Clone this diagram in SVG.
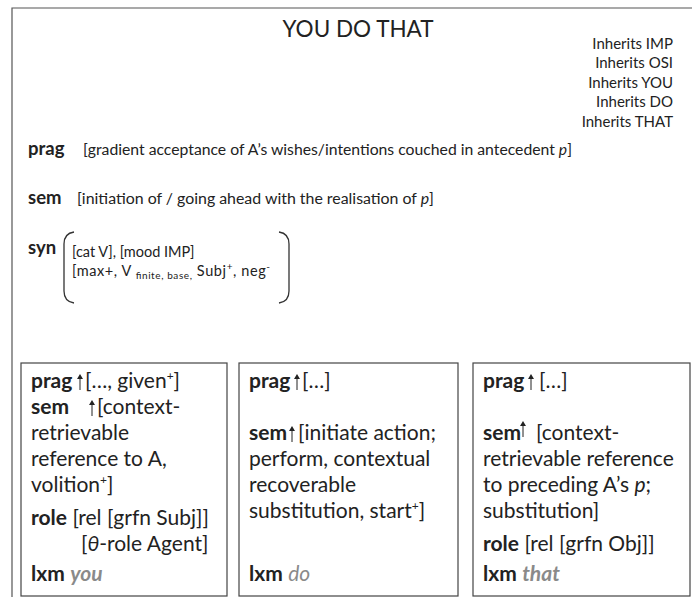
<svg xmlns="http://www.w3.org/2000/svg" width="692" height="601" viewBox="0 0 692 601">
<style>
text{font-family:Lato,"Open Sans","Liberation Sans",sans-serif;fill:#222}
.t{font-size:22.5px}
.inh{font-size:15px;text-anchor:end}
.m{font-size:15.5px}
.s{font-size:14.5px}
.lb{font-size:18.5px;font-weight:bold}
.b{font-weight:bold}
.bx{font-size:21px}
.g{fill:#8a8a8a;font-style:italic}
.frame{fill:none;stroke:#555;stroke-width:1.2}
.box{fill:#fff;stroke:#444;stroke-width:1.2}
.arr{stroke:#222;stroke-width:1;fill:none}
.ah{fill:#222}
.par{fill:none;stroke:#333;stroke-width:1.3}
</style>
<defs>
<g id="up"><line class="arr" x1="0" y1="16" x2="0" y2="3"/><polygon class="ah" points="-3,5 0,0 3,5"/></g>
</defs>
<rect width="692" height="601" fill="#fff"/>
<g id="frame"><path class="frame" d="M692,8 H12 V597"/></g>
<g id="header">
<text class="t" x="358" y="37" text-anchor="middle">YOU DO THAT</text>
<text class="inh" x="673" y="49">Inherits IMP</text>
<text class="inh" x="673" y="68">Inherits OSI</text>
<text class="inh" x="673" y="88">Inherits YOU</text>
<text class="inh" x="673" y="107">Inherits DO</text>
<text class="inh" x="673" y="127">Inherits THAT</text>
</g>
<g id="prag">
<text class="lb" x="28" y="155">prag</text>
<text class="m" x="83" y="155" textLength="489" lengthAdjust="spacingAndGlyphs">[gradient acceptance of A’s wishes/intentions couched in antecedent <tspan font-style="italic">p</tspan>]</text>
</g>
<g id="sem">
<text class="lb" x="28" y="204">sem</text>
<text class="m" x="77" y="204" textLength="357" lengthAdjust="spacingAndGlyphs">[initiation of / going ahead with the realisation of <tspan font-style="italic">p</tspan>]</text>
</g>
<g id="syn">
<text class="lb" x="28" y="254">syn</text>
<path class="par" d="M74,232 C67,233 64,237 64,244 V291 C64,298 67,302 74,303"/>
<path class="par" d="M279,232 C286,233 289,237 289,244 V291 C289,298 286,302 279,303"/>
<text class="s" x="72" y="257">[cat V], [mood IMP]</text>
<text class="s" x="72" y="276" textLength="198" lengthAdjust="spacing">[max+, V <tspan font-size="10" dy="3">finite, base,</tspan><tspan dy="-3"> Subj</tspan><tspan font-size="10" dy="-6">+</tspan><tspan dy="6">, neg</tspan><tspan font-size="10" dy="-6">-</tspan></text>
</g>
<g id="you">
<rect class="box" x="21" y="363" width="206" height="233"/>
<text class="bx b" x="31" y="388">prag</text>
<use href="#up" x="80" y="374"/>
<text class="bx" x="85" y="388">[…, given<tspan font-size="12" dy="-8">+</tspan><tspan dy="8">]</tspan></text>
<text class="bx b" x="31" y="414">sem</text>
<use href="#up" x="92" y="400"/>
<text class="bx" x="97" y="414">[context-</text>
<text class="bx" x="31" y="440">retrievable</text>
<text class="bx" x="31" y="466">reference to A,</text>
<text class="bx" x="31" y="492">volition<tspan font-size="12" dy="-8">+</tspan><tspan dy="8">]</tspan></text>
<text class="bx" x="31" y="525"><tspan class="b">role</tspan> [rel [grfn Subj]]</text>
<text class="bx" x="81" y="551">[<tspan font-style="italic">θ</tspan>-role Agent]</text>
<text class="bx" x="31" y="581"><tspan class="b">lxm</tspan> <tspan class="g b">you</tspan></text>
</g>
<g id="do">
<rect class="box" x="239" y="363" width="219" height="233"/>
<text class="bx b" x="249" y="388">prag</text>
<use href="#up" x="297" y="374"/>
<text class="bx" x="302" y="388">[…]</text>
<text class="bx b" x="249" y="440">sem</text>
<use href="#up" x="292" y="426"/>
<text class="bx" x="298" y="440">[initiate action;</text>
<text class="bx" x="249" y="466">perform, contextual</text>
<text class="bx" x="249" y="492">recoverable</text>
<text class="bx" x="249" y="518">substitution, start<tspan font-size="12" dy="-8">+</tspan><tspan dy="8">]</tspan></text>
<text class="bx" x="249" y="581"><tspan class="b">lxm</tspan> <tspan class="g">do</tspan></text>
</g>
<g id="that">
<rect class="box" x="473" y="363" width="217" height="233"/>
<text class="bx b" x="483" y="388">prag</text>
<use href="#up" x="531" y="374"/>
<text class="bx" x="539" y="388">[…]</text>
<text class="bx b" x="483" y="440">sem</text>
<use href="#up" x="523" y="421"/>
<text class="bx" x="536" y="440">[context-</text>
<text class="bx" x="483" y="466">retrievable reference</text>
<text class="bx" x="483" y="492">to preceding A’s <tspan font-style="italic">p</tspan>;</text>
<text class="bx" x="483" y="518">substitution]</text>
<text class="bx" x="483" y="551"><tspan class="b">role</tspan> [rel [grfn Obj]]</text>
<text class="bx" x="483" y="581"><tspan class="b">lxm</tspan> <tspan class="g b">that</tspan></text>
</g>
<g id="connectors"></g>
</svg>
